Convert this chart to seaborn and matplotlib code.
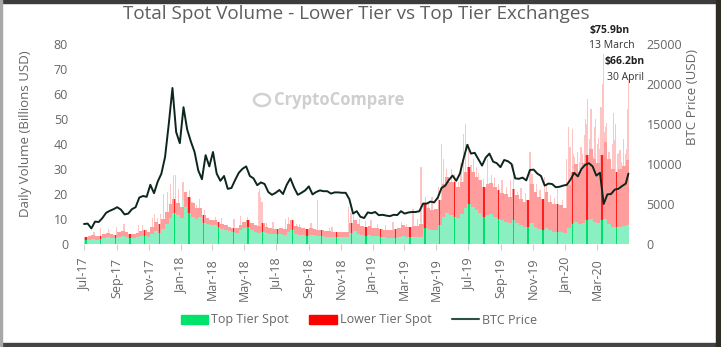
import matplotlib
matplotlib.use("Agg")
import numpy as np
import pandas as pd
import matplotlib.pyplot as plt
from matplotlib.patches import Rectangle, Ellipse, Patch
from matplotlib.lines import Line2D
import seaborn as sns

sns.set_theme(style="white")
plt.rcParams["font.family"] = ["Open Sans", "DejaVu Sans"]

# ---- data -------------------------------------------------------------
week_start = pd.date_range("2017-07-01", periods=148, freq="7D")

# weekly typical daily spot volume, billions USD
top_tier = [
    1.5, 1.8, 2.0, 1.8,
    2.0, 2.4, 2.8, 2.6, 2.4,
    3.0, 3.2, 3.0, 2.5,
    2.4, 2.8, 3.2, 3.4, 3.0,
    4.0, 5.2, 4.6, 6.0,
    8.0, 10.5, 12.5, 11.5, 10.5,
    15.0, 12.5, 11.0, 10.0,
    11.0, 8.5, 8.0, 7.5,
    7.5, 6.8, 6.2, 5.8, 5.2,
    4.8, 4.6, 5.6, 6.5,
    7.0, 5.8, 5.0, 4.6,
    5.0, 4.6, 4.2, 4.0, 4.0,
    4.2, 3.8, 4.8, 5.5,
    4.2, 3.8, 3.6, 3.4,
    3.8, 3.6, 3.2, 3.4, 3.0,
    3.0, 3.0, 2.8, 2.8,
    2.8, 2.8, 4.4, 5.2,
    4.2, 3.8, 3.4, 3.8, 3.2,
    3.2, 3.0, 2.8, 2.6,
    2.6, 2.6, 2.8, 3.2,
    3.0, 2.8, 2.8, 2.8, 3.0,
    6.5, 6.2, 5.6, 5.8,
    7.5, 11.0, 12.5, 11.5,
    11.0, 10.5, 12.0, 14.5, 16.0,
    15.0, 13.5, 12.5, 11.0,
    11.5, 12.0, 11.0, 10.0, 9.5,
    9.0, 8.5, 9.5, 8.5,
    7.5, 7.0, 7.0, 8.5,
    7.0, 6.2, 5.6, 6.5, 5.5,
    5.0, 5.0, 4.8, 4.6,
    6.5, 8.0, 9.0, 8.0,
    8.5, 9.5, 10.0, 9.0, 8.5,
    9.5, 10.0, 8.0, 7.0,
    7.0, 7.0, 7.2, 7.5,
]
lower_tier = [
    1.5, 1.4, 1.6, 1.4,
    1.4, 1.6, 1.8, 1.6, 1.4,
    2.0, 2.2, 2.0, 1.7,
    1.6, 1.8, 2.2, 2.2, 2.0,
    3.0, 3.8, 3.4, 4.0,
    5.0, 5.5, 5.5, 5.0, 4.5,
    6.0, 6.5, 5.5, 4.5,
    3.5, 3.0, 2.5, 2.3,
    2.3, 2.2, 2.0, 2.0, 1.8,
    1.7, 1.8, 2.2, 2.5,
    2.8, 2.6, 2.6, 2.6,
    3.5, 2.4, 2.4, 2.2, 2.0,
    2.3, 2.4, 3.2, 4.0,
    3.0, 3.0, 2.8, 2.6,
    2.8, 2.6, 2.4, 2.4, 2.2,
    2.2, 2.0, 2.0, 2.0,
    2.0, 2.0, 4.1, 4.3,
    3.8, 3.4, 3.4, 3.6, 3.2,
    3.3, 3.2, 3.0, 3.0,
    3.2, 3.4, 3.7, 4.3,
    4.0, 4.2, 4.4, 4.6, 5.0,
    9.5, 8.3, 7.9, 8.2,
    10.0, 13.0, 14.5, 13.5,
    14.0, 12.5, 13.0, 14.5, 15.0,
    14.0, 13.5, 13.0, 12.0,
    12.5, 12.5, 12.0, 11.5, 11.0,
    11.0, 10.5, 12.5, 11.0,
    10.5, 10.0, 10.5, 15.5,
    14.0, 12.8, 12.4, 14.5, 11.5,
    11.0, 11.0, 10.7, 9.9,
    17.0, 21.0, 23.0, 21.0,
    24.0, 26.0, 28.0, 25.0, 24.0,
    26.0, 31.0, 26.0, 23.0,
    22.0, 23.0, 24.0, 26.0,
]

# single days standing out above the weekly level
spike_dates = pd.to_datetime([
    "2017-08-02", "2017-09-15", "2017-10-13", "2017-11-12", "2017-11-29",
    "2017-12-07", "2017-12-12", "2017-12-18", "2017-12-22", "2017-12-28",
    "2018-01-05", "2018-01-10", "2018-01-17", "2018-02-06", "2018-03-08",
    "2018-04-12", "2018-04-25", "2018-05-28", "2018-05-31", "2018-06-02",
    "2018-06-04", "2018-07-24", "2018-08-14", "2018-09-18", "2018-10-15",
    "2018-11-15", "2018-11-20", "2018-12-07", "2018-12-18", "2019-01-10",
    "2019-02-08", "2019-02-24", "2019-03-18", "2019-04-02", "2019-04-23",
    "2019-05-11", "2019-05-14", "2019-05-30", "2019-06-22", "2019-06-26",
    "2019-07-01", "2019-07-10", "2019-07-16", "2019-08-06", "2019-08-14",
    "2019-09-24", "2019-10-26", "2019-11-08", "2019-11-22", "2019-12-18",
    "2020-01-07", "2020-01-14", "2020-01-19", "2020-01-24", "2020-01-29",
    "2020-02-03", "2020-02-09", "2020-02-13", "2020-02-16", "2020-02-19",
    "2020-02-23", "2020-02-26", "2020-03-02", "2020-03-06", "2020-03-09",
    "2020-03-12", "2020-03-13", "2020-03-17", "2020-03-20", "2020-03-24",
    "2020-03-27", "2020-04-01", "2020-04-06", "2020-04-09", "2020-04-14",
    "2020-04-17", "2020-04-21", "2020-04-24", "2020-04-29", "2020-04-30",
    "2017-07-20", "2017-08-17", "2017-09-01", "2017-10-20", "2017-11-08",
    "2017-11-17", "2017-11-24", "2018-01-22", "2018-01-30", "2018-02-15",
    "2018-03-19", "2018-05-08", "2018-06-12", "2018-06-25", "2018-07-18",
    "2018-08-08", "2018-09-05", "2018-10-11", "2018-11-25", "2018-12-28",
    "2019-01-25", "2019-03-05", "2019-03-27", "2019-04-10", "2019-04-16",
    "2019-05-05", "2019-05-20", "2019-06-04", "2019-06-12", "2019-06-17",
    "2019-07-06", "2019-07-21", "2019-07-29", "2019-08-20", "2019-08-28",
    "2019-09-03", "2019-09-12", "2019-09-19", "2019-10-03", "2019-10-09",
    "2019-10-17", "2019-10-30", "2019-11-14", "2019-11-26", "2019-12-04",
    "2019-12-11", "2019-12-26", "2020-01-03", "2020-01-10", "2020-01-31",
    "2020-02-06", "2020-03-04", "2020-03-15", "2020-03-30", "2020-04-03",
    "2020-04-11", "2020-04-26", "2020-01-17", "2020-02-11", "2020-02-28",
    "2020-03-10",
])
spike_top = [
    2.8, 3.6, 4.0, 6.5, 9.5,
    12.0, 13.0, 14.5, 16.0, 13.0,
    17.5, 14.0, 15.0, 13.5, 8.0,
    7.0, 8.0, 5.5, 5.5, 5.0,
    5.0, 6.5, 4.5, 3.5, 3.5,
    5.5, 6.0, 4.5, 4.2, 3.4,
    3.2, 3.5, 3.0, 9.0, 6.5,
    13.5, 14.0, 12.5, 16.0, 18.0,
    16.0, 15.0, 14.0, 13.0, 12.5,
    10.5, 10.0, 7.0, 7.0, 5.5,
    9.0, 10.0, 9.5, 9.0, 8.5,
    9.0, 10.0, 11.0, 10.5, 10.0,
    9.0, 9.0, 9.5, 10.0, 11.0,
    12.0, 12.5, 9.0, 8.5, 8.0,
    7.5, 7.5, 8.0, 7.5, 7.5,
    7.0, 8.0, 8.0, 9.0, 10.0,
    2.2, 3.2, 3.8, 4.2, 5.5,
    6.0, 7.0, 12.0, 11.0, 10.0,
    7.5, 7.5, 5.0, 4.8, 6.0,
    5.0, 4.5, 3.5, 5.5, 4.0,
    3.0, 3.2, 3.4, 7.0, 6.0,
    9.0, 13.0, 11.5, 11.0, 13.5,
    14.5, 12.5, 11.5, 11.0, 10.0,
    10.5, 9.0, 9.5, 8.0, 7.5,
    7.0, 9.0, 6.5, 6.5, 5.5,
    5.5, 5.0, 8.0, 9.0, 9.0,
    9.5, 9.5, 10.0, 8.0, 7.5,
    7.5, 8.0, 9.0, 10.0, 9.0,
    10.0,
]
spike_lower = [
    3.8, 4.6, 3.6, 5.5, 10.5,
    9.0, 11.0, 13.0, 11.5, 9.0,
    7.5, 7.0, 6.5, 4.5, 3.0,
    3.0, 3.2, 15.5, 16.5, 14.0,
    12.0, 4.5, 3.5, 14.0, 3.5,
    9.5, 6.5, 5.5, 5.0, 4.6,
    5.5, 5.5, 11.0, 22.0, 12.5,
    26.5, 20.0, 17.5, 28.0, 30.0,
    24.0, 19.0, 17.0, 21.0, 15.0,
    21.5, 27.0, 17.0, 20.0, 16.5,
    38.0, 36.0, 25.5, 28.0, 24.5,
    27.0, 40.0, 47.0, 31.5, 44.0,
    26.0, 38.0, 30.5, 28.0, 44.0,
    52.0, 63.4, 38.0, 40.0, 29.0,
    26.5, 45.0, 40.0, 28.5, 30.0,
    26.0, 34.0, 28.0, 45.0, 56.2,
    2.8, 2.8, 3.2, 3.3, 5.0,
    4.5, 5.0, 5.0, 4.5, 3.5,
    3.0, 3.5, 3.5, 4.2, 4.0,
    3.0, 4.0, 3.0, 6.0, 5.5,
    4.5, 5.0, 6.5, 12.0, 11.0,
    14.0, 17.0, 16.5, 14.0, 19.0,
    17.0, 16.0, 14.5, 16.0, 14.0,
    15.0, 14.0, 16.0, 13.0, 15.0,
    13.5, 19.0, 15.0, 17.5, 14.0,
    13.0, 12.5, 26.0, 30.0, 30.0,
    34.0, 33.0, 35.0, 32.0, 34.0,
    29.0, 30.0, 27.0, 38.0, 41.0,
    35.0,
]

price_dates = list(week_start) + [pd.Timestamp("2020-04-30")]
btc_price = [
    2500, 2550, 1950, 2800,
    2750, 3250, 3900, 4150, 4350,
    4600, 4300, 3700, 3800,
    4350, 4600, 5800, 6000, 5900,
    7400, 6350, 7800, 8800,
    10900, 15000, 19500, 14000, 12600,
    17100, 14300, 12800, 11500,
    9200, 8100, 11100, 9700,
    11500, 8800, 7900, 8500, 6900,
    7000, 8000, 8900, 9400,
    9700, 8500, 8200, 7350,
    7700, 7500, 6500, 6150, 6400,
    6750, 6250, 7400, 8200,
    7050, 6150, 6400, 6700,
    7200, 6200, 6500, 6700, 6600,
    6600, 6300, 6450, 6450,
    6400, 6400, 5600, 3800,
    4100, 3400, 3250, 3950, 3850,
    4000, 3600, 3650, 3550,
    3480, 3650, 3620, 4100,
    3800, 3940, 4000, 4000, 4100,
    5050, 5050, 5300, 5200,
    5800, 7000, 7300, 8000,
    8550, 7900, 8800, 10700, 12400,
    11300, 11400, 10600, 9800,
    10800, 11300, 10300, 10100, 9600,
    10500, 10350, 10000, 8200,
    8150, 8300, 7950, 9250,
    9300, 8800, 8500, 7300, 7550,
    7500, 7100, 7150, 7300,
    7400, 8050, 8900, 8450,
    9400, 9900, 10100, 9700, 8550,
    8900, 5000, 6200, 6250,
    6800, 6900, 7250, 7550,
    8800,
]

annotated_days = ["2020-03-13", "2020-04-30"]
annotated_text = ["13 March", "30 April"]

# ---- styling ----------------------------------------------------------
GREEN_LIGHT = "#8AF0C2"
GREEN = "#00DE6E"
PINK = "#FF9C9C"
PINK_LIGHT = "#FFC4C4"
RED = "#FF1E1E"
LINE = "#0C261C"
TXT = "#666666"

fig = plt.figure(figsize=(7.21, 3.47), dpi=100)
fig.patch.set_facecolor("white")
ax = fig.add_axes([82 / 721, 103 / 347, 548 / 721, 200 / 347])

day = pd.Timedelta(days=1)
centers = week_start + 3.5 * day

# single-day spikes underneath the weekly blocks
ax.bar(spike_dates, spike_top, width=2.2, color="#B8F5D8", linewidth=0, zorder=1)
ax.bar(spike_dates, spike_lower, bottom=spike_top, width=2.2,
       color=PINK_LIGHT, linewidth=0, zorder=1)

# weekly stacked blocks
ax.bar(centers, top_tier, width=7.0, color=GREEN_LIGHT, linewidth=0, zorder=2)
ax.bar(centers, lower_tier, bottom=top_tier, width=7.0, color=PINK,
       linewidth=0, zorder=2)

# saturated stripes every fourth week
idx = np.arange(0, len(week_start), 4)
tt = np.asarray(top_tier)
lt = np.asarray(lower_tier)
ax.bar(centers[idx], tt[idx], width=2.6, color=GREEN, linewidth=0, zorder=3)
ax.bar(centers[idx], lt[idx], bottom=tt[idx], width=2.6, color=RED,
       linewidth=0, zorder=3)

ax.set_ylim(0, 80)
ax.set_yticks(np.arange(0, 81, 10))
x0 = pd.Timestamp("2017-07-01")

month_ticks = pd.date_range("2017-07-01", "2020-03-01", freq="2MS")
ax.set_xticks(month_ticks)
ax.set_xticklabels([d.strftime("%b-%y") for d in month_ticks], rotation=90)
ax.tick_params(axis="x", length=4, width=0.8, color="#D0D0D0", pad=6,
               labelsize=9, labelcolor=TXT, bottom=True)
ax.tick_params(axis="y", length=0, pad=10, labelsize=9, labelcolor=TXT)
for s in ax.spines.values():
    s.set_visible(False)
ax.grid(False)

# BTC price on the secondary axis
ax2 = ax.twinx()
sns.lineplot(x=price_dates, y=btc_price, ax=ax2, color=LINE, linewidth=1.4,
             zorder=5)
ax2.set_ylim(0, 25000)
ax2.set_yticks(np.arange(0, 25001, 5000))
ax2.set_yticklabels([str(v) for v in range(0, 25001, 5000)])
ax2.tick_params(axis="y", length=0, pad=12, labelsize=9, labelcolor=TXT)
ax2.set_ylabel("")
for s in ax2.spines.values():
    s.set_visible(False)
ax2.grid(False)
ax.set_xlim(x0 - 3.8 * day, x0 + 1037 * day)

# peak annotations
sd = list(spike_dates)
for dstr, label, off in zip(annotated_days, annotated_text,
                            [(5, 17, 6), (-3, 12, 1)]):
    i = sd.index(pd.Timestamp(dstr))
    total = spike_top[i] + spike_lower[i]
    ax.annotate(f"${total:.1f}bn", xy=(pd.Timestamp(dstr), total),
                xytext=(off[0], off[1]), textcoords="offset points",
                ha="center", va="center", fontsize=7.5, fontweight="bold",
                color="#222222", annotation_clip=False, zorder=6)
    ax.annotate(label, xy=(pd.Timestamp(dstr), total),
                xytext=(off[0] + 1, off[2]), textcoords="offset points",
                ha="center", va="center", fontsize=7.5, color="#333333",
                annotation_clip=False, zorder=6)

# watermark
fig.text(339 / 721, 1 - 100 / 347, "CryptoCompare", ha="center",
         va="center", fontsize=12, fontweight="bold", color="#CFCFCF",
         zorder=0)
fig.patches.append(Ellipse((262 / 721, 1 - 100 / 347), 16 / 721, 12 / 347,
                           transform=fig.transFigure, fill=False,
                           edgecolor="#D2D2D2", linewidth=1.8))

# titles
fig.text(356 / 721, 1 - 14 / 347,
         "Total Spot Volume - Lower Tier vs Top Tier Exchanges",
         ha="center", va="center", fontsize=13.6, color="#5E5E5E")
fig.text(26 / 721, 1 - 134 / 347, "Daily Volume (Billions USD)",
         rotation=90, ha="center", va="center", fontsize=9.5, color=TXT)
fig.text(692 / 721, 1 - 97 / 347, "BTC Price (USD)",
         rotation=90, ha="center", va="center", fontsize=9.5, color=TXT)

# legend
handles = [Patch(color="#00E36B"), Patch(color="#FF0000"),
           Line2D([], [], color="#2E4F45", linewidth=1.5)]
fig.legend(handles, ["Top Tier Spot", "Lower Tier Spot", "BTC Price"],
           loc="center", bbox_to_anchor=(359 / 721, 27 / 347), ncol=3,
           frameon=False, fontsize=9, handlelength=2.2, handletextpad=0.25,
           columnspacing=1.6, labelcolor=TXT)

# surrounding frame
fig.patches.append(Rectangle((0, 1 - 3 / 347), 1, 3 / 347,
                             transform=fig.transFigure, color="#3C3C3C"))
fig.patches.append(Rectangle((0, 0), 1, 4 / 347,
                             transform=fig.transFigure, color="#444444"))
fig.patches.append(Rectangle((0, 0), 2 / 721, 1,
                             transform=fig.transFigure, color="#A8A8A8"))
fig.patches.append(Rectangle((1 - 5 / 721, 0), 5 / 721, 1,
                             transform=fig.transFigure, color="#2E2A24"))

fig.savefig("out.png", dpi=100)
